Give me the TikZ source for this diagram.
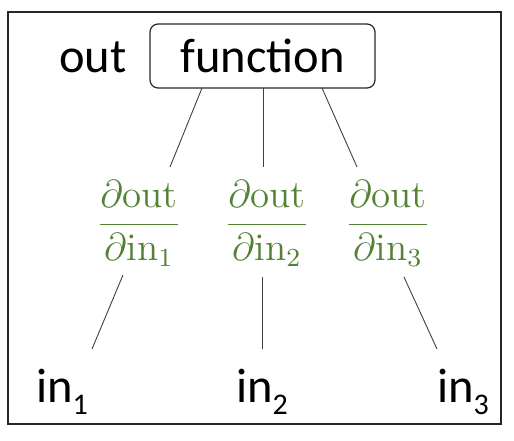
\documentclass[tikz,border=0pt]{standalone}
\usepackage{fontspec}
\newfontfamily\calibri{Carlito}
\definecolor{fracgreen}{RGB}{84,130,53}
\definecolor{linegray}{RGB}{64,64,64}
\tikzset{
  lbl/.style={font=\calibri\fontsize{48.5}{50}\selectfont, inner sep=0pt, anchor=base},
  fracnode/.style={text=fracgreen, inner sep=0pt, anchor=base},
  conn/.style={draw=linegray, line width=0.9pt},
  fnbox/.style={draw=black!85, line width=1.2pt, rounded corners=8pt, minimum width=225pt, minimum height=64pt, inner sep=0pt, font=\calibri\fontsize{48.5}{50}\selectfont}
}
\newcommand{\subin}[1]{in\raisebox{-12pt}{\fontsize{30}{30}\selectfont #1}}
\newcommand{\dfr}[1]{\scalebox{3.25}{\fontsize{12}{14}\selectfont$\displaystyle\frac{\partial\mathrm{out}}{\partial\mathrm{in}_{#1}}$}}
\begin{document}
\begin{tikzpicture}[x=1pt,y=-1pt]
\useasboundingbox (0,0) rectangle (514,440);
\draw[black!85, line width=1.6pt] (8,12) rectangle (501,424);
\node[fnbox] (fn) at (262.5,56) {function};
\node[lbl] (out) at (93,72.5) {out};
\node[fracnode] (d1) at (139,234) {\dfr{1}};
\node[fracnode] (d2) at (267,234) {\dfr{2}};
\node[fracnode] (d3) at (388,234) {\dfr{3}};
\node[lbl] (in1) at (62,402) {\subin{1}};
\node[lbl] (in2) at (262,402) {\subin{2}};
\node[lbl] (in3) at (463,402) {\subin{3}};
\coordinate (a1) at (202,88);
\coordinate (a2) at (263,88);
\coordinate (a3) at (322,88);
\coordinate (b1) at (170,167);
\coordinate (b2) at (263,167);
\coordinate (b3) at (357,167);
\coordinate (c1) at (123,275);
\coordinate (c2) at (262,277);
\coordinate (c3) at (404,277);
\coordinate (e1) at (92,349);
\coordinate (e2) at (262,349);
\coordinate (e3) at (437,349);
\draw[conn] (a1) -- (b1);
\draw[conn] (a2) -- (b2);
\draw[conn] (a3) -- (b3);
\draw[conn] (c1) -- (e1);
\draw[conn] (c2) -- (e2);
\draw[conn] (c3) -- (e3);
\end{tikzpicture}
\end{document}
